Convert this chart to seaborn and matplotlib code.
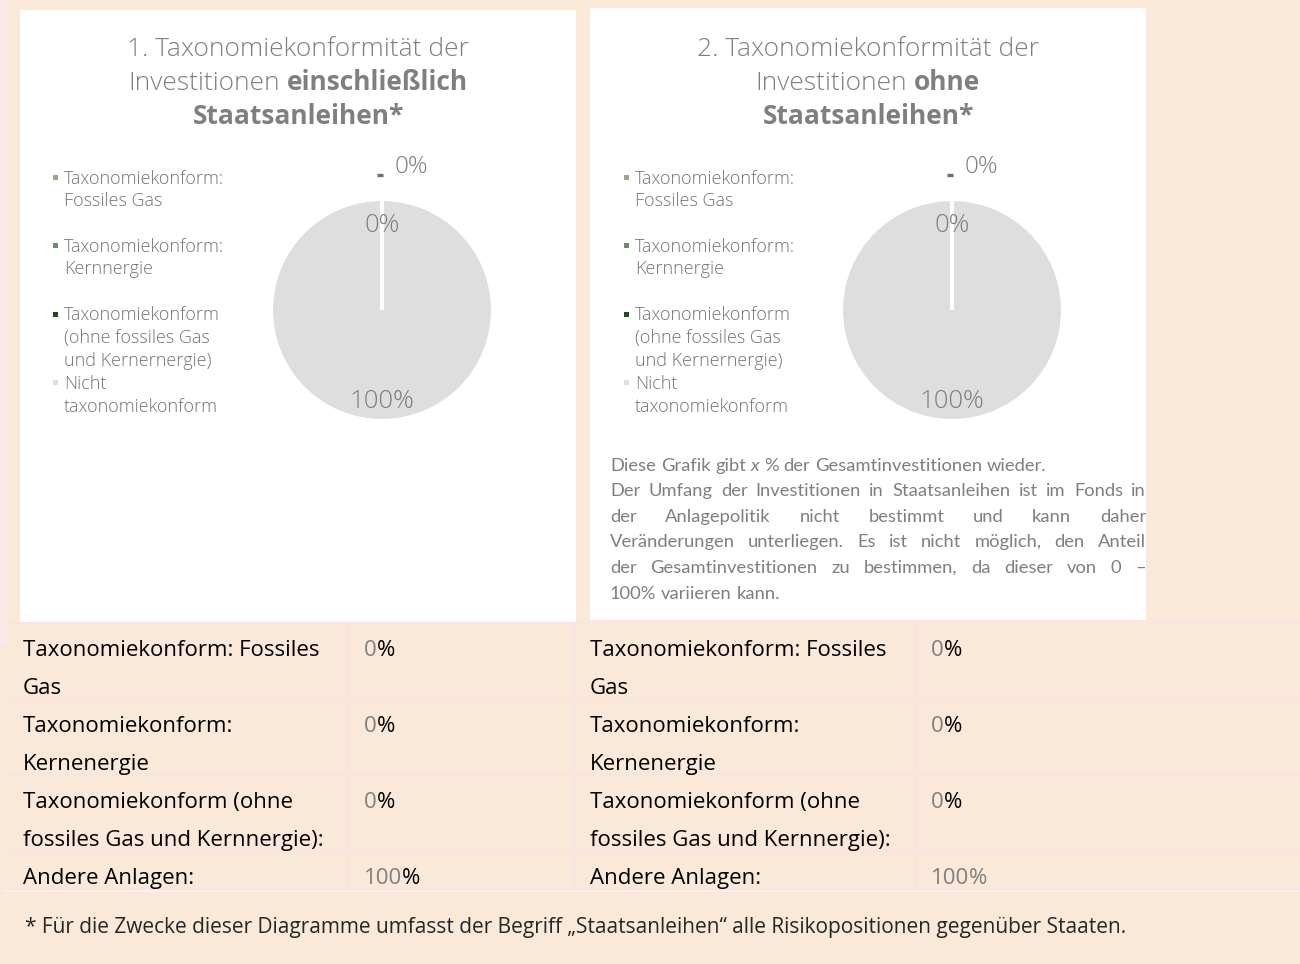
import matplotlib
matplotlib.use("Agg")
import matplotlib.pyplot as plt
from matplotlib.patches import Rectangle
import numpy as np
import seaborn as sns

# ----------------------------------------------------------------------------------------------------------------------
"""Data"""
categories = ["Taxonomiekonform: Fossiles Gas", "Taxonomiekonform: Kernenergie",
              "Taxonomiekonform (ohne fossiles Gas und Kernenergie)", "Nicht taxonomiekonform"]
legend_labels = ["Taxonomiekonform:\nFossiles Gas", "Taxonomiekonform:\nKernnergie",
                 "Taxonomiekonform\n(ohne fossiles Gas\nund Kernernergie)", "Nicht\ntaxonomiekonform"]
values_incl = [0, 0, 0, 100]
values_excl = [0, 0, 0, 100]
table_labels = ["Taxonomiekonform: Fossiles\nGas", "Taxonomiekonform:\nKernenergie",
                "Taxonomiekonform (ohne\nfossiles Gas und Kernnergie):", "Andere Anlagen:"]
title_1 = ["1. Taxonomiekonformität der", "Investitionen", "einschließlich", "Staatsanleihen*"]
title_2 = ["2. Taxonomiekonformität der", "Investitionen", "ohne", "Staatsanleihen*"]
note_lines = ["Diese Grafik gibt x % der Gesamtinvestitionen wieder.",
              "Der Umfang der Investitionen in Staatsanleihen ist im Fonds in",
              "der Anlagepolitik nicht bestimmt und kann daher",
              "Veränderungen unterliegen. Es ist nicht möglich, den Anteil",
              "der Gesamtinvestitionen zu bestimmen, da dieser von 0 –",
              "100% variieren kann."]
footnote = "* Für die Zwecke dieser Diagramme umfasst der Begriff „Staatsanleihen“ alle Risikopositionen gegenüber Staaten."

# ----------------------------------------------------------------------------------------------------------------------
"""Style"""
sns.set_theme(style="white")
plt.rcParams["font.family"] = ["Open Sans", "DejaVu Sans"]

PEACH = "#FAE8D8"
PINK = "#FCE3E3"
GRAY = "#7F7F7F"
palette = sns.color_palette(["#94AA8F", "#6E8B6B", "#1E4D20", "#DEDEDE"])
SANS = ["Open Sans", "DejaVu Sans"]
NOTE = ["Lato", "DejaVu Sans"]

W, H = 1300, 964
fig = plt.figure(figsize=(W / 100, H / 100), dpi=100)
fig.patch.set_facecolor(PEACH)

bg = fig.add_axes([0, 0, 1, 1])
bg.set_xlim(0, W)
bg.set_ylim(H, 0)
bg.axis("off")
renderer = fig.canvas.get_renderer()


def width(s, **kw):
    t = bg.text(0, 0, s, **kw)
    w = t.get_window_extent(renderer).width
    t.remove()
    return w


def draw_words(words, x, y, ha="left", justify_to=None, gap=None, **base):
    # words: list of (string, extra style); y is the visual middle of the line
    styles = [{**base, **st} for _, st in words]
    ws = [width(w, **st) for (w, _), st in zip(words, styles)]
    if justify_to is not None:
        gap = (justify_to - sum(ws)) / (len(ws) - 1)
    elif gap is None:
        gap = width("a a", **base) - width("aa", **base)
    total = sum(ws) + gap * (len(ws) - 1)
    if ha == "center":
        x = x - total / 2
    yb = y + 0.36 * base["fontsize"] * 100 / 72
    for (w, _), st, wd in zip(words, styles, ws):
        bg.text(x, yb, w, ha="left", va="baseline", **st)
        x += wd + gap


# ----------------------------------------------------------------------------------------------------------------------
"""Panels"""
bg.add_patch(Rectangle((0, 0), 7, 645, color="#FDE8E8", lw=0))
bg.add_patch(Rectangle((20, 10), 556, 612, color="white", lw=0))
bg.add_patch(Rectangle((590, 8), 556, 612, color="white", lw=0))

R, CY = 110, 310
panels = [(298, 382, 55, title_1, values_incl), (868, 952, 626, title_2, values_excl)]
TS = 19

for tx, cx, lx, title, values in panels:
    # title
    draw_words([(title[0], {})], tx, 47, ha="center", fontsize=TS, fontweight="light", color=GRAY, family=SANS)
    draw_words([(title[1], {"fontweight": "light"}), (title[2], {"fontweight": "bold"})], tx, 81, ha="center",
               fontsize=TS, color=GRAY, family=SANS, fontweight="light")
    draw_words([(title[3], {})], tx, 114, ha="center", fontsize=TS, fontweight="bold", color=GRAY, family=SANS)

    # legend
    for i, (lab, col) in enumerate(zip(legend_labels, palette)):
        y0 = 177 + i * 68.5
        bg.add_patch(Rectangle((lx - 2.5, y0 - 2.5), 5, 5, color=col, lw=0))
        for k, line in enumerate(lab.split("\n")):
            draw_words([(line, {})], lx + 9, y0 + k * 22.5, fontsize=13, color="#737373",
                       fontweight="light", family=SANS)

    # pie
    ax = fig.add_axes([(cx - R) / W, 1 - (CY + R) / H, 2 * R / W, 2 * R / H])
    wedges, texts, autos = ax.pie(values, colors=palette, startangle=90, counterclock=False,
                                  autopct="%.0f%%", pctdistance=0.8,
                                  wedgeprops=dict(edgecolor="white", linewidth=1.5),
                                  textprops=dict(color=GRAY, fontsize=18.5, fontweight="light", family=SANS))
    ax.set_xlim(-1, 1)
    ax.set_ylim(-1, 1)
    # the empty slices collapse onto one white radius
    ang = np.deg2rad(wedges[0].theta1)
    ax.plot([0, np.cos(ang)], [0, np.sin(ang)], color="white", lw=3, solid_capstyle="butt", zorder=3)
    for a in autos:
        px, py = a.get_position()
        a.set_position((px, py - 0.03))
        a.set_zorder(4)
    autos[0].set_position((0.265, 1.30))
    autos[0].set_fontsize(17.5)
    autos[1].set_visible(False)
    ax.plot([-0.05, 0.012], [1.227, 1.227], color="#6F6F6F", lw=2.4, solid_capstyle="butt", clip_on=False)

# note under the second chart
note_kw = dict(fontsize=13.2, color=GRAY, family=NOTE)
words0 = [(w, {"style": "italic"} if w == "x" else {}) for w in note_lines[0].split()]
draw_words(words0, 610, 464, **note_kw)
for i, line in enumerate(note_lines[1:5]):
    draw_words([(w, {}) for w in line.split()], 610, 489.5 + i * 25.6, justify_to=536, **note_kw)
draw_words([(w, {}) for w in note_lines[5].split()], 610, 592, **note_kw)

# ----------------------------------------------------------------------------------------------------------------------
"""Table"""
tab_kw = dict(fontsize=16, color="black", family=SANS)
top = 623
row_tops = []
for lab in table_labels:
    row_tops.append(top)
    top += 38 * (lab.count("\n") + 1)
bottom = top

for (lx, vx), values, grey_pct in [((23, 364), values_incl, [False, False, False, False]),
                                   ((590, 931), values_excl, [False, False, False, True])]:
    for lab, val, y0, gp in zip(table_labels, values, row_tops, grey_pct):
        for k, line in enumerate(lab.split("\n")):
            draw_words([(line, {})], lx, y0 + 25 + k * 38, **tab_kw)
        draw_words([(f"{val}", {"color": GRAY}), ("%", {"color": GRAY if gp else "black"})], vx, y0 + 25, gap=0,
                   **tab_kw)

for y in row_tops + [bottom]:
    bg.plot([7, W], [y, y], color=PINK, lw=1.5, solid_capstyle="butt")
for x in [348, 575, 916]:
    bg.plot([x, x], [623, bottom], color=PINK, lw=1.5, solid_capstyle="butt")
bg.add_patch(Rectangle((5, bottom), W - 5, 3, color="#FDF0EC", lw=0))

# ----------------------------------------------------------------------------------------------------------------------
"""Footnote"""
draw_words([(footnote, {})], 25, 926, fontsize=15, color="#262626", family=SANS)

fig.savefig("out.png", dpi=100, facecolor=fig.get_facecolor())
